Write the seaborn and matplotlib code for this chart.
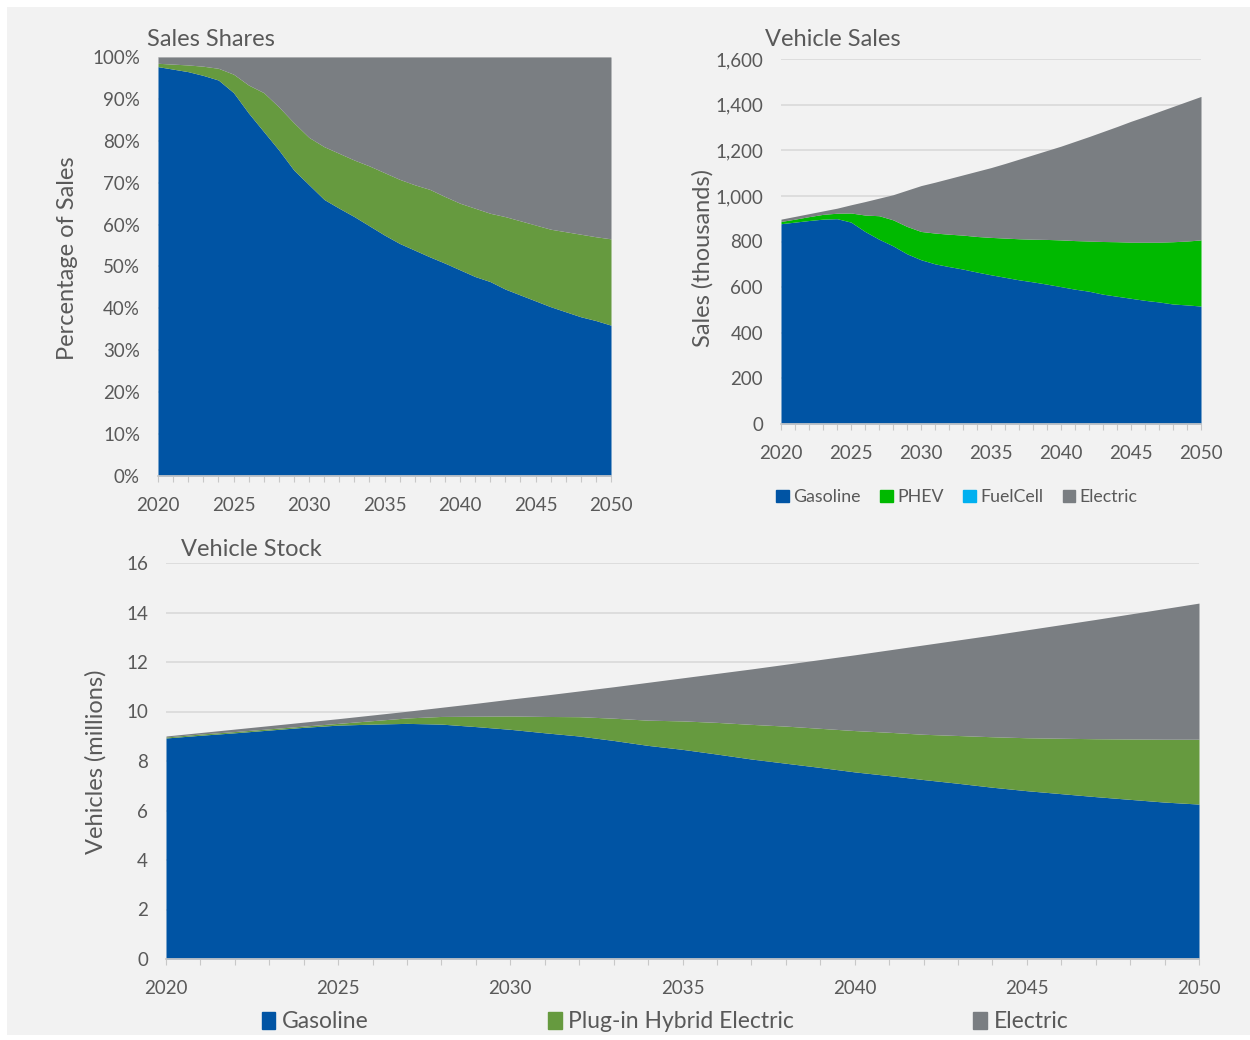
import numpy as np
import pandas as pd
import matplotlib.pyplot as plt
import seaborn as sns
from matplotlib.patches import Patch, Rectangle
from matplotlib.ticker import MultipleLocator, PercentFormatter, FuncFormatter

# Data
years = list(range(2020, 2051))

# Sales shares (%)
share_gasoline = [97.7, 97.1, 96.5, 95.6, 94.5, 91.5, 86.6, 82.2, 77.8, 73.0, 69.5,
                  66.0, 63.9, 61.9, 59.7, 57.5, 55.5, 53.9, 52.3, 50.8, 49.2,
                  47.6, 46.4, 44.6, 43.2, 41.8, 40.4, 39.2, 38.0, 37.1, 36.0]
share_phev = [0.8, 1.2, 1.6, 2.2, 2.8, 4.4, 6.7, 9.3, 10.3, 11.3, 11.3,
              12.6, 13.1, 13.5, 14.3, 14.9, 15.3, 15.6, 16.1, 15.9, 15.9,
              16.3, 16.3, 17.3, 17.7, 18.1, 18.5, 19.1, 19.7, 20.0, 20.6]
share_electric = [1.5, 1.7, 1.9, 2.2, 2.7, 4.1, 6.7, 8.5, 11.9, 15.7, 19.2,
                  21.4, 23.0, 24.6, 26.0, 27.6, 29.2, 30.5, 31.6, 33.3, 34.9,
                  36.1, 37.3, 38.1, 39.1, 40.1, 41.1, 41.7, 42.3, 42.9, 43.4]

# Vehicle sales (thousands)
sales_gasoline = [878, 885, 892, 898, 900, 885, 844, 810, 781, 746, 720,
                  702, 690, 679, 666, 654, 643, 632, 623, 613, 602,
                  591, 582, 569, 560, 551, 542, 535, 526, 522, 517]
sales_phev = [10, 13, 17, 21, 24, 40, 72, 103, 114, 120, 124,
              135, 142, 149, 156, 164, 172, 180, 187, 196, 205,
              213, 220, 231, 239, 246, 255, 262, 273, 280, 290]
sales_fuelcell = [0] * 31
sales_electric = [10, 12, 13, 15, 22, 36, 59, 77, 110, 159, 201,
                  223, 244, 264, 286, 306, 327, 349, 370, 390, 411,
                  435, 458, 482, 505, 530, 551, 573, 593, 612, 629]

# Vehicle stock (millions)
stock_gasoline = [8.93, 9.04, 9.14, 9.25, 9.36, 9.45, 9.49, 9.52, 9.49, 9.39, 9.28,
                  9.14, 9.01, 8.83, 8.63, 8.47, 8.28, 8.08, 7.91, 7.74, 7.56,
                  7.41, 7.25, 7.10, 6.94, 6.80, 6.68, 6.56, 6.45, 6.34, 6.26]
stock_phev = [0.04, 0.05, 0.05, 0.05, 0.05, 0.07, 0.14, 0.22, 0.31, 0.42, 0.54,
              0.66, 0.78, 0.90, 1.02, 1.15, 1.28, 1.40, 1.50, 1.58, 1.67,
              1.75, 1.83, 1.93, 2.04, 2.14, 2.24, 2.34, 2.44, 2.54, 2.62]
stock_electric = [0.04, 0.06, 0.10, 0.13, 0.16, 0.19, 0.23, 0.27, 0.37, 0.52, 0.68,
                  0.86, 1.04, 1.27, 1.53, 1.74, 1.98, 2.24, 2.50, 2.78, 3.06,
                  3.33, 3.61, 3.86, 4.11, 4.36, 4.59, 4.82, 5.05, 5.28, 5.50]

BLUE = '#0054a4'
GREEN = '#669a3f'
PHEV_GREEN = '#00b900'
CYAN = '#00b0f0'
GRAY = '#7a7e82'
TEXT = '#595959'
BG = '#f2f2f2'

sns.set_theme(style='white')
plt.rcParams['font.family'] = ['Lato', 'DejaVu Sans']
plt.rcParams['text.color'] = TEXT

W, H = 1250, 1040
fig = plt.figure(figsize=(12.5, 10.4), dpi=100, facecolor='white')
fig.patches.append(Rectangle((7 / W, 5 / H), (W - 7) / W, (1035 - 7) / H,
                             transform=fig.transFigure, facecolor=BG,
                             edgecolor='none', zorder=-10))


def px_axes(l, t, r, b):
    return fig.add_axes([l / W, 1 - b / H, (r - l) / W, (b - t) / H])


def style(ax, ymax, ystep):
    ax.set_facecolor(BG)
    ax.set_xlim(2020, 2050)
    ax.set_ylim(0, ymax)
    ax.xaxis.set_major_locator(MultipleLocator(5))
    ax.xaxis.set_minor_locator(MultipleLocator(1))
    ax.yaxis.set_major_locator(MultipleLocator(ystep))
    ax.grid(axis='y', color='#d9d9d9', linewidth=1.2, zorder=0)
    ax.set_axisbelow(True)
    sns.despine(ax=ax, left=True, top=True, right=True)
    ax.spines['bottom'].set_color('#c8c8c8')
    ax.tick_params(axis='x', which='both', direction='out', length=4,
                   width=0.8, color='#c8c8c8', labelsize=13.5,
                   labelcolor=TEXT, pad=11, bottom=True)
    ax.tick_params(axis='y', length=0, labelsize=13.5, labelcolor=TEXT, pad=13)


# Sales Shares
ax1 = px_axes(158, 57, 611, 476)
ax1.stackplot(years, share_gasoline, share_phev, share_electric,
              colors=[BLUE, GREEN, GRAY], linewidth=0, zorder=2)
style(ax1, 100, 10)
ax1.yaxis.set_major_formatter(PercentFormatter(decimals=0))
fig.text(147 / W, 1 - 39 / H, 'Sales Shares', fontsize=17, va='center', color=TEXT)
fig.text(68 / W, 1 - 258 / H, 'Percentage of Sales', fontsize=17,
         rotation=90, ha='center', va='center', color=TEXT)

# Vehicle Sales
ax2 = px_axes(781, 59, 1201, 424)
ax2.stackplot(years, sales_gasoline, sales_phev, sales_fuelcell, sales_electric,
              colors=[BLUE, PHEV_GREEN, CYAN, GRAY], linewidth=0, zorder=2)
style(ax2, 1600, 200)
ax2.yaxis.set_major_formatter(FuncFormatter(lambda v, p: f'{v:,.0f}'))
fig.text(765 / W, 1 - 39 / H, 'Vehicle Sales', fontsize=17, va='center', color=TEXT)
fig.text(703 / W, 1 - 258 / H, 'Sales (thousands)', fontsize=17,
         rotation=90, ha='center', va='center', color=TEXT)
sales_handles = [Patch(color=c, label=l) for c, l in
                 zip([BLUE, PHEV_GREEN, CYAN, GRAY],
                     ['Gasoline', 'PHEV', 'FuelCell', 'Electric'])]
fig.legend(handles=sales_handles, loc='center', ncol=4,
           bbox_to_anchor=(957 / W, 1 - 497 / H), frameon=False,
           fontsize=12.8, handlelength=0.7, handleheight=0.7,
           handletextpad=0.25, columnspacing=1.1, labelcolor=TEXT)

# Vehicle Stock
ax3 = px_axes(166, 563, 1199, 959)
ax3.stackplot(years, stock_gasoline, stock_phev, stock_electric,
              colors=[BLUE, GREEN, GRAY], linewidth=0, zorder=2)
style(ax3, 16, 2)
fig.text(181 / W, 1 - 550 / H, 'Vehicle Stock', fontsize=17, va='center', color=TEXT)
fig.text(96 / W, 1 - 762 / H, 'Vehicles (millions)', fontsize=17,
         rotation=90, ha='center', va='center', color=TEXT)
stock_handles = [Patch(color=c, label=l) for c, l in
                 zip([BLUE, GREEN, GRAY],
                     ['Gasoline', 'Plug-in Hybrid Electric', 'Electric'])]
fig.legend(handles=stock_handles, loc='center', ncol=3,
           bbox_to_anchor=(665 / W, 1 - 1022 / H), frameon=False,
           fontsize=16.5, handlelength=0.6, handleheight=0.75,
           handletextpad=0.3, columnspacing=7.8, labelcolor=TEXT)

fig.savefig('out.png', dpi=100, facecolor=fig.get_facecolor())
